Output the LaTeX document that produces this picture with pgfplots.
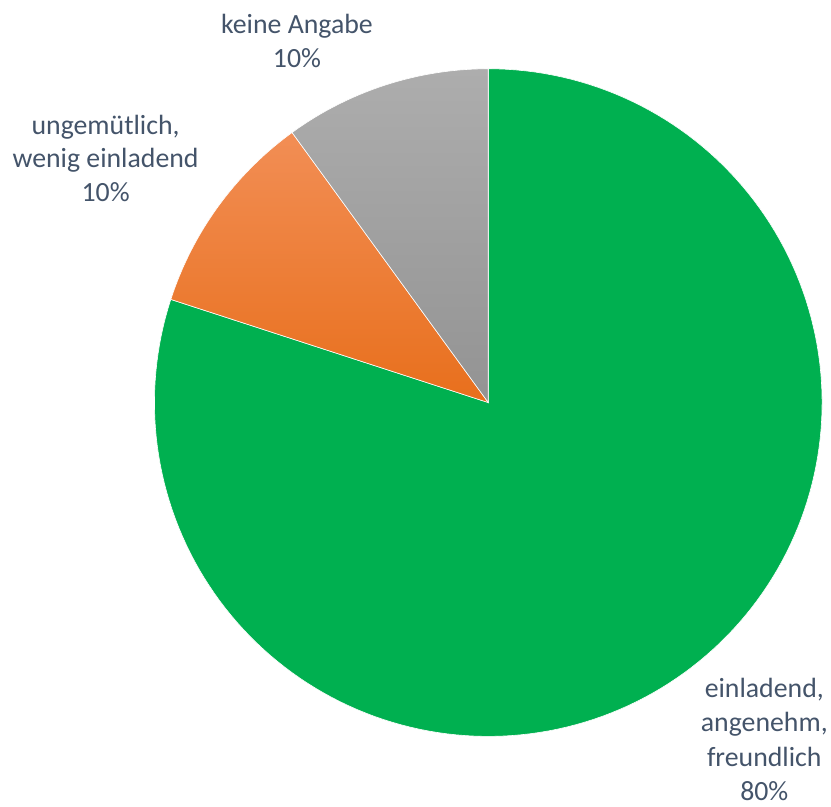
\documentclass[border=0pt]{standalone}
\usepackage{pgfplots}
\pgfplotsset{compat=1.18}
\usepackage{fontspec}
\setmainfont{Carlito}
\definecolor{pgreen}{HTML}{00B050}
\definecolor{orangetop}{HTML}{F28E55}
\definecolor{orangebot}{HTML}{E86F1C}
\definecolor{graytop}{HTML}{ADADAD}
\definecolor{graybot}{HTML}{939393}
\definecolor{labelc}{HTML}{44546A}
% pie values (percent)
\def\vA{80}% einladend, angenehm, freundlich
\def\vB{10}% ungemütlich, wenig einladend
\def\vC{10}% keine Angabe
\begin{document}
\begin{tikzpicture}
\pgfmathsetmacro{\aA}{90}
\pgfmathsetmacro{\aB}{90-3.6*\vA}
\pgfmathsetmacro{\aC}{90-3.6*(\vA+\vB)}
\pgfmathsetmacro{\aD}{90-3.6*(\vA+\vB+\vC)}
\begin{axis}[
  x=1bp, y=1bp,
  xmin=0, xmax=831, ymin=0, ymax=809,
  hide axis, clip=false,
  scale only axis,
]
\addplot[draw=none, forget plot] coordinates {(0,0) (831,809)};
\addplot[fill=pgreen, draw=white, line width=0.6pt, domain=\aA:\aB, samples=181, variable=\t]
  ({490+335*cos(\t)},{405+335*sin(\t)}) -- (axis cs:490,405) -- cycle;
\addplot[top color=orangetop, bottom color=orangebot, draw=white, line width=0.6pt, domain=\aB:\aC, samples=31, variable=\t]
  ({490+335*cos(\t)},{405+335*sin(\t)}) -- (axis cs:490,405) -- cycle;
\addplot[top color=graytop, bottom color=graybot, draw=white, line width=0.6pt, domain=\aC:\aD, samples=31, variable=\t]
  ({490+335*cos(\t)},{405+335*sin(\t)}) -- (axis cs:490,405) -- cycle;
\node[text=labelc, align=center, font=\fontsize{28}{34}\selectfont] at (axis cs:298,768) {keine Angabe\\\vC\%};
\node[text=labelc, align=center, font=\fontsize{28}{33.5}\selectfont] at (axis cs:106,650) {ungemütlich,\\wenig einladend\\\vB\%};
\node[text=labelc, align=center, font=\fontsize{28}{34.5}\selectfont] at (axis cs:767,67) {einladend,\\angenehm,\\freundlich\\\vA\%};
\end{axis}
\end{tikzpicture}
\end{document}
